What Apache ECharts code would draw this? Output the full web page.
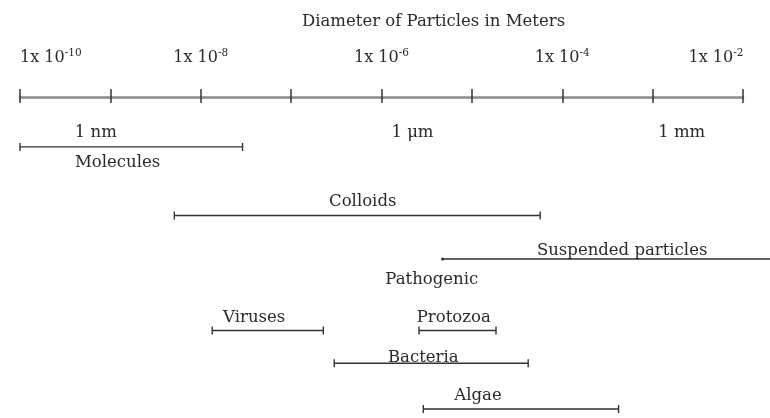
<!DOCTYPE html>
<html>
<head>
<meta charset="utf-8">
<script src="https://cdn.jsdelivr.net/npm/echarts@6/dist/echarts.min.js"></script>
<style>
html, body { margin: 0; padding: 0; background: #fff; }
#main { width: 770px; height: 418px; }
</style>
</head>
<body>
<div id="main"></div>
<script>
// 粒径范围 (m)
var rangeNames = ['Molecules', 'Colloids', 'Suspended particles', 'Viruses', 'Protozoa', 'Bacteria', 'Algae'];
var rangeStart = [1e-10, 5.1e-9, 4.75e-6, 1.34e-8, 2.6e-6, 3.0e-7, 2.9e-6];
var rangeEnd = [2.9e-8, 5.7e-5, 1e-1, 2.27e-7, 1.85e-5, 4.2e-5, 4.2e-4];
var rangeLane = [1.92, 4.56, 6.23, 8.98, 8.98, 10.24, 12.0];

// 文字标注
var labelNames = ['1 nm', '1 μm', '1 mm', 'Molecules', 'Colloids', 'Suspended particles', 'Pathogenic', 'Viruses', 'Protozoa', 'Bacteria', 'Algae'];
var labelX = [6.9e-10, 2.2e-6, 2.1e-3, 1.2e-9, 6.2e-7, 4.6e-4, 3.6e-6, 3.9e-8, 6.3e-6, 2.9e-6, 1.17e-5];
var labelLane = [1.385, 1.385, 1.385, 2.54, 4.03, 5.91, 7.01, 8.5, 8.5, 10.04, 11.5];

var axisMin = 1e-10, axisMax = 1e-2;
var FONT = 'DejaVu Serif';
var TEXT_COLOR = '#2a2a2a';

var myChart = echarts.init(document.getElementById('main'));

var rangeData = rangeNames.map(function(n, i) {
    return { name: n, value: [rangeStart[i], rangeEnd[i], rangeLane[i]] };
});
var labelData = labelNames.map(function(n, i) {
    return { name: n, value: [labelX[i], labelLane[i]] };
});

function renderRange(params, api) {
    var lane = api.value(2);
    var p0 = api.coord([api.value(0), lane]);
    var p1 = api.coord([api.value(1), lane]);
    var style = { stroke: '#333', lineWidth: 1.4 };
    var children = [{
        type: 'line',
        shape: { x1: p0[0], y1: p0[1], x2: p1[0], y2: p1[1] },
        style: style
    }];
    if (api.value(1) > axisMax) {
        // 开放区间：起点只画一个小点
        children.push({ type: 'circle', shape: { cx: p0[0], cy: p0[1], r: 1.6 }, style: { fill: '#333' } });
    } else {
        [p0, p1].forEach(function(p) {
            children.push({
                type: 'line',
                shape: { x1: p[0], y1: p[1] - 4, x2: p[0], y2: p[1] + 4 },
                style: style
            });
        });
    }
    return { type: 'group', children: children };
}

var option = {
    animation: false,
    backgroundColor: '#fff',
    title: {
        text: 'Diameter of Particles in Meters',
        left: 297,
        top: 8,
        textStyle: { fontFamily: FONT, fontSize: 16.5, fontWeight: 'normal', color: TEXT_COLOR }
    },
    grid: { left: 20, right: 27, top: 97, bottom: 9, outerBoundsMode: 'none', containLabel: false },
    xAxis: [{
        type: 'log',
        logBase: 10,
        position: 'top',
        min: axisMin,
        max: axisMax,
        axisLine: { show: true, onZero: false, lineStyle: { color: '#8c8c8c', width: 2.5 } },
        axisTick: { show: true, inside: false, length: 8, lineStyle: { color: '#333', width: 1.5 } },
        splitLine: { show: false },
        axisLabel: {
            margin: 30,
            alignMinLabel: 'left',
            fontFamily: FONT,
            fontSize: 16,
            color: TEXT_COLOR,
            lineHeight: 19,
            formatter: function(v) {
                var e = Math.round(Math.log10(v));
                if (e % 2 !== 0) return '';
                var s = '1x 10{sup|' + e + '}';
                // 最右端标签向左收
                if (v >= axisMax) s += '{gap| }';
                return s;
            },
            rich: {
                sup: { fontFamily: FONT, fontSize: 10.5, color: TEXT_COLOR, verticalAlign: 'top', lineHeight: 19 },
                gap: { width: 54, lineHeight: 19 }
            }
        }
    }, {
        type: 'log',
        logBase: 10,
        position: 'top',
        min: axisMin,
        max: axisMax,
        axisLine: { show: false, onZero: false },
        axisTick: { show: true, inside: true, length: 6, lineStyle: { color: '#333', width: 1.5 } },
        axisLabel: { show: false },
        splitLine: { show: false }
    }],
    yAxis: {
        type: 'value',
        min: 0,
        max: 12,
        inverse: true,
        show: false
    },
    series: [{
        name: 'ranges',
        type: 'custom',
        xAxisIndex: 0,
        clip: false,
        renderItem: renderRange,
        data: rangeData
    }, {
        name: 'labels',
        type: 'scatter',
        xAxisIndex: 0,
        symbolSize: 0,
        clip: false,
        silent: true,
        itemStyle: { opacity: 1 },
        label: {
            show: true,
            position: 'inside',
            formatter: '{b}',
            fontFamily: FONT,
            fontSize: 16.5,
            opacity: 1,
            color: TEXT_COLOR
        },
        data: labelData
    }]
};

myChart.setOption(option);
</script>
</body>
</html>
